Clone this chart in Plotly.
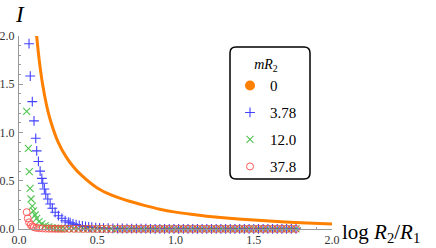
import plotly.graph_objects as go

# ---------------- data ----------------
orange_x = [0.105, 0.113, 0.13, 0.15, 0.175, 0.2, 0.25, 0.3, 0.35, 0.4, 0.5, 0.6, 0.7,
            0.8, 0.9, 1.0, 1.1, 1.2, 1.4, 1.6, 1.8, 2.0]
orange_y = [2.15, 2.0, 1.74, 1.507, 1.29, 1.13, 0.90, 0.75, 0.64, 0.555, 0.425, 0.345, 0.29,
            0.245, 0.205, 0.175, 0.152, 0.133, 0.104, 0.082, 0.065, 0.052]

blue_x = [0.064, 0.072, 0.085, 0.096, 0.107, 0.113, 0.124, 0.135, 0.146, 0.152, 0.162, 0.171,
          0.184, 0.199, 0.213, 0.231, 0.252, 0.274, 0.295, 0.315, 0.327, 0.345, 0.365, 0.385,
          0.405, 0.425, 0.445, 0.465, 0.49, 0.515, 0.54, 0.57, 0.60]
blue_y = [1.92, 1.585, 1.32, 1.12, 0.94, 0.81, 0.70, 0.60, 0.525, 0.474, 0.415, 0.363,
          0.311, 0.259, 0.215, 0.173, 0.138, 0.111, 0.086, 0.072, 0.065, 0.054, 0.045, 0.037,
          0.031, 0.026, 0.021, 0.018, 0.015, 0.012, 0.010, 0.008, 0.006]

green_x = [0.049, 0.060, 0.066, 0.071, 0.077, 0.085, 0.092, 0.103, 0.113, 0.128, 0.146, 0.167,
           0.19, 0.21, 0.23, 0.25, 0.27, 0.29]
green_y = [1.22, 0.836, 0.594, 0.422, 0.311, 0.238, 0.187, 0.145, 0.111, 0.076, 0.052, 0.034,
           0.022, 0.015, 0.010, 0.007, 0.005, 0.004]

red_x = [0.049, 0.056, 0.064, 0.075, 0.085, 0.095, 0.11, 0.13, 0.15, 0.17, 0.19, 0.21, 0.23,
         0.25, 0.27, 0.29]
red_y = [0.174, 0.11, 0.069, 0.042, 0.028, 0.019, 0.012, 0.008, 0.006, 0.004, 0.003, 0.003,
         0.002, 0.002, 0.002, 0.002]

mid_x = [0.32, 0.35, 0.38, 0.41, 0.44, 0.47, 0.50, 0.53, 0.56, 0.59]
green_mid = [0.003, 0.003, 0.002, 0.002, 0.002, 0.002, 0.001, 0.001, 0.001, 0.001]
red_mid = [0.002, 0.002, 0.002, 0.001, 0.001, 0.001, 0.001, 0.001, 0.001, 0.001]

tail_x = [0.63, 0.66, 0.69, 0.72, 0.75, 0.78, 0.81, 0.84, 0.87, 0.90, 0.93, 0.96, 0.99,
          1.02, 1.05, 1.08, 1.11, 1.14, 1.17, 1.20, 1.23, 1.26, 1.29, 1.32, 1.35, 1.38,
          1.41, 1.44, 1.47, 1.50, 1.53, 1.56, 1.59, 1.62, 1.65, 1.68, 1.71, 1.74, 1.77]
blue_tail = [0.005, 0.005, 0.004, 0.004, 0.003, 0.003, 0.003, 0.002, 0.002, 0.002, 0.002, 0.002, 0.002,
             0.001, 0.001, 0.001, 0.001, 0.001, 0.001, 0.001, 0.001, 0.001, 0.001, 0.001, 0.001, 0.001,
             0.001, 0.001, 0.001, 0.001, 0.001, 0.001, 0.001, 0.001, 0.001, 0.001, 0.001, 0.001, 0.001]
green_tail = [0.001, 0.001, 0.001, 0.001, 0.001, 0.001, 0.001, 0.001, 0.001, 0.001, 0.001, 0.001, 0.001,
              0.001, 0.001, 0.001, 0.001, 0.001, 0.001, 0.001, 0.001, 0.001, 0.001, 0.001, 0.001, 0.001,
              0.001, 0.001, 0.001, 0.001, 0.001, 0.001, 0.001, 0.001, 0.001, 0.001, 0.001, 0.001, 0.001]
red_tail = [0.001, 0.001, 0.001, 0.001, 0.001, 0.001, 0.001, 0.001, 0.001, 0.001, 0.001, 0.001, 0.001,
            0.001, 0.001, 0.001, 0.001, 0.001, 0.001, 0.001, 0.001, 0.001, 0.001, 0.001, 0.001, 0.001,
            0.001, 0.001, 0.001, 0.001, 0.001, 0.001, 0.001, 0.001, 0.001, 0.001, 0.001, 0.001, 0.001]

legend_names = ["0", "3.78", "12.0", "37.8"]
tick_vals = [0.0, 0.5, 1.0, 1.5, 2.0]
tick_text = ["0.0", "0.5", "1.0", "1.5", "2.0"]

ORANGE = "#FF8000"
BLUE = "#2020FF"
GREEN = "#33BB33"
RED = "#FF4040"
SERIF = "Liberation Serif, Times New Roman, serif"

fig = go.Figure()

# massless curve (line) + legend proxy dot
fig.add_trace(go.Scatter(x=orange_x, y=orange_y, mode="lines",
                         line=dict(color=ORANGE, width=3, shape="spline", smoothing=0.8),
                         showlegend=False, hoverinfo="skip"))
fig.add_trace(go.Scatter(x=[None], y=[None], mode="markers", name=legend_names[0],
                         legendgroup="a", marker=dict(color=ORANGE, size=10, symbol="circle")))

fig.add_trace(go.Scatter(x=blue_x + tail_x, y=blue_y + blue_tail, mode="markers",
                         name=legend_names[1], legendgroup="b", cliponaxis=False, opacity=0.85,
                         marker=dict(symbol="cross-thin-open", size=7, color=BLUE,
                                     line=dict(color=BLUE, width=1.1))))
fig.add_trace(go.Scatter(x=green_x + mid_x + tail_x, y=green_y + green_mid + green_tail,
                         mode="markers", name=legend_names[2], legendgroup="c", cliponaxis=False,
                         opacity=0.85,
                         marker=dict(symbol="x-thin-open", size=7, color=GREEN,
                                     line=dict(color=GREEN, width=1.1))))
fig.add_trace(go.Scatter(x=red_x + mid_x + tail_x, y=red_y + red_mid + red_tail,
                         mode="markers", name=legend_names[3], legendgroup="d", cliponaxis=False,
                         opacity=0.85,
                         marker=dict(symbol="circle-open", size=7, color=RED,
                                     line=dict(color=RED, width=1))))

W, H = 436, 248
L, R, T, B = 19, 104, 36, 19


def px(xp):
    return (xp - L) / (W - L - R)


def py(yp):
    return (H - B - yp) / (H - T - B)


axis_common = dict(showline=True, linecolor="#999999", linewidth=1, ticks="inside", ticklen=4,
                   tickcolor="#999999", showgrid=False, zeroline=False, automargin=False,
                   tickfont=dict(family=SERIF, size=12, color="#333333"),
                   minor=dict(ticks="inside", ticklen=2, dtick=0.1, tickcolor="#999999"))

fig.update_layout(
    width=W, height=H, margin=dict(l=L, r=R, t=T, b=B, pad=0, autoexpand=False),
    paper_bgcolor="white", plot_bgcolor="white",
    xaxis=dict(range=[0, 2.0], tickvals=tick_vals, ticktext=tick_text, **axis_common),
    yaxis=dict(range=[0, 2.0], tickvals=tick_vals, ticktext=tick_text, ticklabelstandoff=1,
               **axis_common),
    legend=dict(x=px(230), y=py(51), xanchor="left", yanchor="top",
                bgcolor="rgba(0,0,0,0)", borderwidth=0,
                font=dict(family=SERIF, size=15, color="black"),
                title=dict(text="<i>mR</i><sub>2</sub>", side="top center",
                           font=dict(family=SERIF, size=14, color="black")),
                tracegroupgap=4.5),
    showlegend=True,
)

# rounded legend frame
x0, x1, y0, y1, r = px(230), px(310), py(47), py(179), 6
rx = r / (W - L - R)
ry = r / (H - T - B)
path = (f"M {x0+rx},{y0} L {x1-rx},{y0} Q {x1},{y0} {x1},{y0-ry} "
        f"L {x1},{y1+ry} Q {x1},{y1} {x1-rx},{y1} L {x0+rx},{y1} Q {x0},{y1} {x0},{y1+ry} "
        f"L {x0},{y0-ry} Q {x0},{y0} {x0+rx},{y0} Z")
fig.add_shape(type="path", path=path, xref="paper", yref="paper",
              line=dict(color="black", width=1.5), fillcolor="rgba(0,0,0,0)")

# axis labels
fig.add_annotation(text="<i>I</i>", x=px(13), y=py(14), xref="paper", yref="paper",
                   xanchor="left", yanchor="middle", showarrow=False,
                   font=dict(family=SERIF, size=23, color="black"))
fig.add_annotation(text="log <i>R</i><sub>2</sub>/<i>R</i><sub>1</sub>", x=px(340), y=py(233),
                   xref="paper", yref="paper", xanchor="left", yanchor="middle", showarrow=False,
                   font=dict(family=SERIF, size=21, color="black"))

fig.write_html("out.html", config={"displayModeBar": False},
               post_script="document.body.style.margin='0';")
